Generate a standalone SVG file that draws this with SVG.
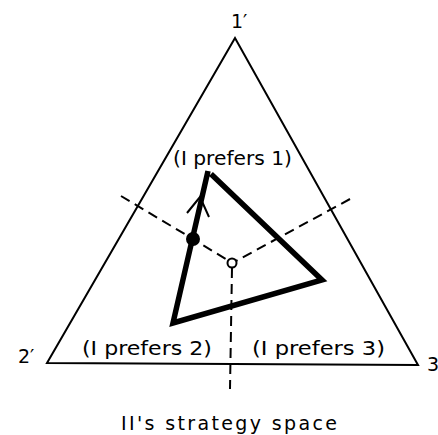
<svg xmlns="http://www.w3.org/2000/svg" width="438" height="435" viewBox="0 0 438 435">
<style>
  .lbl { font-family: "DejaVu Sans", "Liberation Sans", sans-serif; font-size: 19px; fill: #000; }
  .thin { fill: none; stroke: #000; stroke-width: 2; }
  .dash { fill: none; stroke: #000; stroke-width: 2; stroke-dasharray: 10 6; }
  .bold { fill: none; stroke: #000; stroke-width: 5.5; stroke-linejoin: miter; }
</style>
<rect width="438" height="435" fill="#fff"/>
<g id="simplex">
  <polygon class="thin" points="235,38 47,363 418,365"/>
</g>
<g id="connectors">
  <path class="dash" d="M121,196 L193,239 L229,261"/>
  <path class="dash" d="M350,199 L236,261"/>
  <path class="dash" d="M232,268 L230,389"/>
</g>
<g id="best-response">
  <path class="bold" d="M211,174 L322,280 L173,323 L208,171"/>
  <path class="thin" d="M187,213 L200,197 L209,217"/>
</g>
<g id="equilibrium">
  <circle cx="193" cy="239" r="7" fill="#000"/>
</g>
<g id="centroid">
  <circle cx="232" cy="263" r="4.5" fill="#fff" stroke="#000" stroke-width="2"/>
</g>
<g id="labels">
  <text class="lbl" x="231" y="28" font-size="21">1′</text>
  <text class="lbl" x="18" y="363" font-size="21">2′</text>
  <text class="lbl" x="427" y="371" font-size="21">3</text>
  <text class="lbl" x="173" y="165" textLength="119" lengthAdjust="spacingAndGlyphs">(I prefers 1)</text>
  <text class="lbl" x="82" y="355" font-size="21" textLength="130" lengthAdjust="spacingAndGlyphs">(I prefers 2)</text>
  <text class="lbl" x="252" y="355" font-size="21" textLength="133" lengthAdjust="spacingAndGlyphs">(I prefers 3)</text>
  <text class="lbl" x="121" y="430" font-size="20" textLength="216" lengthAdjust="spacing">II's strategy space</text>
</g>
</svg>
